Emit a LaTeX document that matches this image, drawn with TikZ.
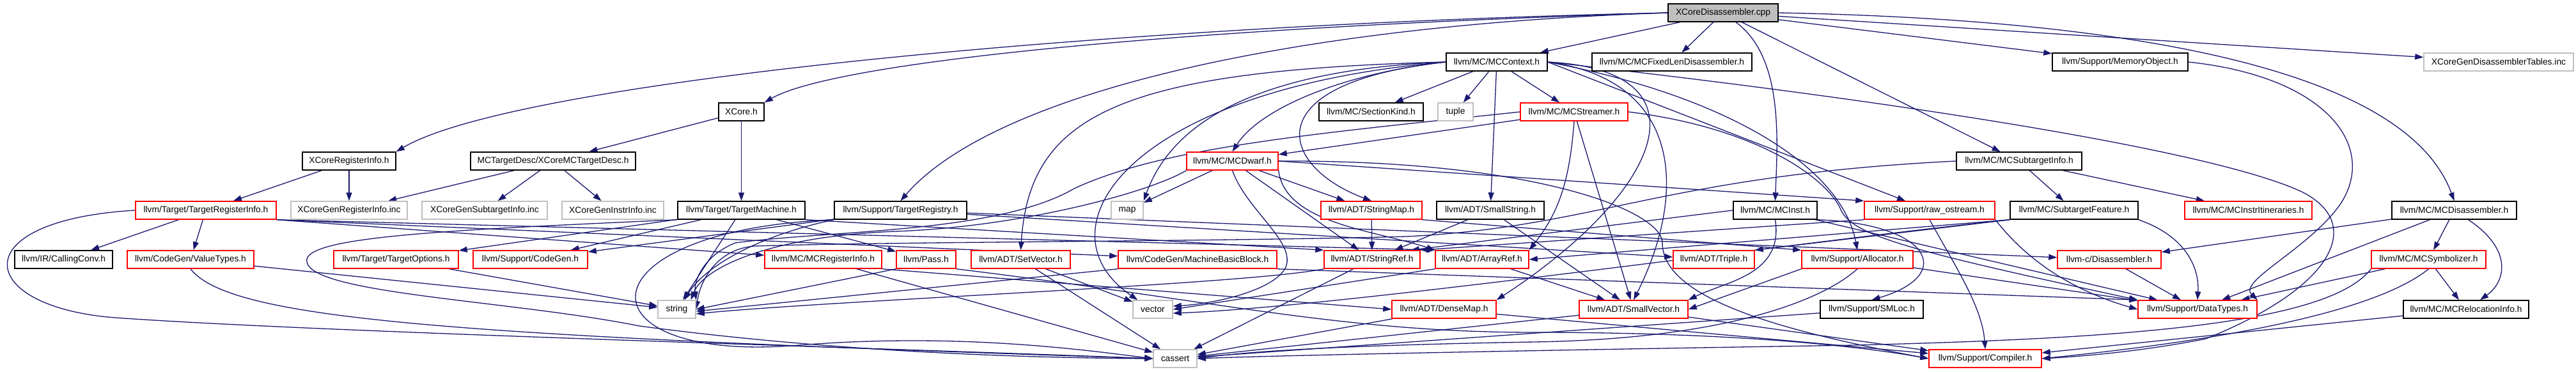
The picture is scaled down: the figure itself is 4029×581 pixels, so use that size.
\documentclass[tikz,border=0pt]{standalone}
\usepackage{fontspec}
\setmainfont{Liberation Sans}
\usetikzlibrary{arrows.meta}
\definecolor{edgec}{HTML}{191970}
\definecolor{grayb}{HTML}{BFBFBF}
\definecolor{redb}{HTML}{FF0000}
\pgfdeclarelayer{bg}
\pgfsetlayers{bg,main}
\newcommand{\gnode}[6]{\node[#5,minimum width={#3-#2}] (#1) at ({(#2+#3)/2},#4) {#6};}
\begin{document}
\begin{tikzpicture}[x=1pt,y=-1pt,
  box/.style={line width=1.5pt, minimum height=28pt, inner sep=0pt, anchor=center, fill=white, text=black, font=\fontsize{13.8pt}{16pt}\selectfont},
  kbox/.style={box, draw=black},
  rbox/.style={box, draw=redb},
  gbox/.style={box, draw=grayb},
  rootbox/.style={box, draw=black, fill=grayb},
  edg/.style={draw=edgec, line width=1.3pt, -{Triangle[length=13pt,width=9pt]}}]
\useasboundingbox (0,0) rectangle (4029,581);
\begin{pgfonlayer}{bg}
\fill[white] (0,0) rectangle (4029,581);
\end{pgfonlayer}
% row 0
\gnode{root}{2609}{2781}{20}{rootbox}{XCoreDisassembler.cpp}
% row 1
\gnode{mcctx}{2262}{2420}{97}{kbox}{llvm/MC/MCContext.h}
\gnode{fixlen}{2490}{2740}{97}{kbox}{llvm/MC/MCFixedLenDisassembler.h}
\gnode{memobj}{3210}{3422}{97}{kbox}{llvm/Support/MemoryObject.h}
\gnode{distab}{3791}{4025}{97}{gbox}{XCoreGenDisassemblerTables.inc}
% row 2
\gnode{xcore}{1124}{1195}{175}{kbox}{XCore.h}
\gnode{seckind}{2063}{2226}{175}{kbox}{llvm/MC/SectionKind.h}
\gnode{tuple}{2249}{2304}{175}{gbox}{tuple}
\gnode{streamer}{2378}{2546}{175}{rbox}{llvm/MC/MCStreamer.h}
% row 3
\gnode{xreginfo}{473}{619}{252}{kbox}{XCoreRegisterInfo.h}
\gnode{xmctd}{736}{994}{252}{kbox}{MCTargetDesc/XCoreMCTargetDesc.h}
\gnode{dwarf}{1856}{1999}{252}{rbox}{llvm/MC/MCDwarf.h}
\gnode{subinfo}{3060}{3256}{252}{kbox}{llvm/MC/MCSubtargetInfo.h}
% row 4
\gnode{tri}{212}{432}{329}{rbox}{llvm/Target/TargetRegisterInfo.h}
\gnode{genreg}{455}{637}{329}{gbox}{XCoreGenRegisterInfo.inc}
\gnode{gensub}{660}{856}{329}{gbox}{XCoreGenSubtargetInfo.inc}
\gnode{geninstr}{879}{1038}{329}{gbox}{XCoreGenInstrInfo.inc}
\gnode{tmach}{1060}{1259}{329}{kbox}{llvm/Target/TargetMachine.h}
\gnode{treg}{1305}{1512}{329}{kbox}{llvm/Support/TargetRegistry.h}
\gnode{map}{1738}{1788}{329}{gbox}{map}
\gnode{strmap}{2066}{2224}{329}{rbox}{llvm/ADT/StringMap.h}
\gnode{smallstr}{2247}{2415}{329}{kbox}{llvm/ADT/SmallString.h}
\gnode{mcinst}{2711}{2842}{329}{kbox}{llvm/MC/MCInst.h}
\gnode{rawos}{2916}{3120}{329}{rbox}{llvm/Support/raw\_ostream.h}
\gnode{subfeat}{3144}{3344}{329}{kbox}{llvm/MC/SubtargetFeature.h}
\gnode{itin}{3417}{3616}{329}{rbox}{llvm/MC/MCInstrItineraries.h}
\gnode{mcdis}{3741}{3936}{329}{kbox}{llvm/MC/MCDisassembler.h}
% row 5
\gnode{cconv}{23}{176}{406}{kbox}{llvm/IR/CallingConv.h}
\gnode{vtypes}{199}{397}{406}{rbox}{llvm/CodeGen/ValueTypes.h}
\gnode{topts}{522}{717}{406}{rbox}{llvm/Target/TargetOptions.h}
\gnode{cgen}{740}{919}{406}{rbox}{llvm/Support/CodeGen.h}
\gnode{mcreg}{1196}{1379}{406}{rbox}{llvm/MC/MCRegisterInfo.h}
\gnode{pass}{1402}{1495}{406}{rbox}{llvm/Pass.h}
\gnode{setvec}{1519}{1674}{406}{rbox}{llvm/ADT/SetVector.h}
\gnode{mbb}{1749}{1997}{406}{rbox}{llvm/CodeGen/MachineBasicBlock.h}
\gnode{strref}{2071}{2221}{406}{rbox}{llvm/ADT/StringRef.h}
\gnode{arrref}{2245}{2391}{406}{rbox}{llvm/ADT/ArrayRef.h}
\gnode{triple}{2617}{2744}{406}{rbox}{llvm/ADT/Triple.h}
\gnode{alloc}{2818}{2992}{406}{rbox}{llvm/Support/Allocator.h}
\gnode{cdis}{3218}{3380}{406}{rbox}{llvm-c/Disassembler.h}
\gnode{symb}{3709}{3888}{406}{rbox}{llvm/MC/MCSymbolizer.h}
% row 6
\gnode{string}{1029}{1088}{484}{gbox}{string}
\gnode{vector}{1772}{1834}{484}{gbox}{vector}
\gnode{dmap}{2177}{2340}{484}{rbox}{llvm/ADT/DenseMap.h}
\gnode{svec}{2470}{2640}{484}{rbox}{llvm/ADT/SmallVector.h}
\gnode{smloc}{2847}{3008}{484}{kbox}{llvm/Support/SMLoc.h}
\gnode{dtypes}{3344}{3530}{484}{rbox}{llvm/Support/DataTypes.h}
\gnode{reloc}{3759}{3955}{484}{kbox}{llvm/MC/MCRelocationInfo.h}
% row 7
\gnode{cassert}{1804}{1872}{561}{gbox}{cassert}
\gnode{compiler}{3017}{3193}{561}{rbox}{llvm/Support/Compiler.h}

\begin{pgfonlayer}{bg}
% root
\draw[edg] (root.west) .. controls (1700,40) and (800,130) .. (xreginfo.north east);
\draw[edg] (root.west) .. controls (1800,45) and (1300,100) .. (xcore.north east);
\draw[edg] (root.west) .. controls (2000,40) and (1550,150) .. (treg.north);
\draw[edg] (root) -- (mcctx);
\draw[edg] (root) -- (fixlen);
\draw[edg] ([xshift=20pt]root.south) .. controls (2790,90) and (2780,220) .. (mcinst.north);
\draw[edg] (root) -- (subinfo);
\draw[edg] (root) -- (memobj);
\draw[edg] (root) -- (distab);
\draw[edg] (root.east) .. controls (3300,30) and (3760,100) .. (mcdis.north);
% XCore.h etc.
\draw[edg] (xcore) -- (xmctd);
\draw[edg] (xcore) -- (tmach);
\draw[edg] (xreginfo) -- (tri);
\draw[edg] (xreginfo) -- (genreg);
\draw[edg] (xmctd) -- (genreg);
\draw[edg] (xmctd) -- (gensub);
\draw[edg] (xmctd) -- (geninstr);
% TargetRegisterInfo
\draw[edg] (tri) -- (cconv);
\draw[edg] (tri) -- (vtypes);
\draw[edg] (tri.west) .. controls (-60,345) and (-40,480) .. (180,497) .. controls (500,520) and (1400,545) .. (cassert.west);
\draw[edg] (tri.south east) -- (mcreg);
\draw[edg] (tri.south east) -- (mbb);
\draw[edg] (tri.south east) -- (arrref.north west);
% ValueTypes
\draw[edg] (vtypes) -- (string);
\draw[edg] (vtypes.south) .. controls (360,500) and (700,525) .. (cassert.west);
% TargetMachine
\draw[edg] (tmach) -- (topts);
\draw[edg] (tmach) -- (cgen);
\draw[edg] (tmach) -- (pass);
\draw[edg] (tmach.south east) -- (strref.north west);
\draw[edg] (tmach) -- (string);
\draw[edg] (tmach.south west) .. controls (700,360) and (470,370) .. (480,410) .. controls (490,460) and (800,470) .. (1000,510) .. controls (1300,550) and (1600,560) .. (cassert.west);
% TargetRegistry
\draw[edg] (treg) -- (cgen);
\draw[edg] (treg.south west) .. controls (1180,370) and (1100,420) .. ([xshift=12pt]string.north);
\draw[edg] (treg) -- (triple);
\draw[edg] (treg) -- (cdis);
\draw[edg] (treg.south west) .. controls (900,360) and (900,570) .. (1250,540) .. controls (1500,520) and (1700,548) .. (cassert.west);
% MCContext
\draw[edg] (mcctx) -- (seckind);
\draw[edg] (mcctx) -- (tuple);
\draw[edg] (mcctx) -- (smallstr);
\draw[edg] (mcctx) -- (streamer);
\draw[edg] (mcctx.west) .. controls (2100,115) and (1970,170) .. (dwarf.north);
\draw[edg] (mcctx.west) .. controls (1950,110) and (1830,200) .. (map.north east);
\draw[edg] (mcctx.west) .. controls (1960,130) and (2000,260) .. (strmap.north);
\draw[edg] (mcctx.west) .. controls (1750,110) and (1610,180) .. (setvec.north);
\draw[edg] (mcctx.west) .. controls (1760,140) and (1620,360) .. ([xshift=8pt]vector.north west);
\draw[edg] (mcctx.east) .. controls (2680,110) and (2600,300) .. (dmap.north east);
\draw[edg] (mcctx.east) .. controls (2630,125) and (2640,300) .. (svec.north);
\draw[edg] (mcctx.east) .. controls (2700,150) and (2880,260) .. (alloc.north);
\draw[edg] (mcctx.east) -- (rawos);
\draw[edg] (mcctx.east) .. controls (2900,150) and (3450,230) .. (3600,300) .. controls (3700,350) and (3650,450) .. (3450,530) .. controls (3350,550) and (3250,558) .. (compiler.east);
% MemoryObject
\draw[edg] (memobj.east) .. controls (3640,120) and (3720,230) .. (3660,320) .. controls (3610,390) and (3500,440) .. (dtypes.north east);
% MCInst
\draw[edg] (mcinst.south) .. controls (2790,430) and (2700,440) .. (svec.north east);
\draw[edg] (mcinst.west) -- ([xshift=-15pt]strref.north east);
\draw[edg] (mcinst) -- (dtypes);
\draw[edg] (mcinst.south east) .. controls (3020,350) and (3060,430) .. (smloc.north);
% MCSubtargetInfo
\draw[edg] (subinfo) -- (itin);
\draw[edg] (subinfo) -- (subfeat);
\draw[edg] (subinfo.west) .. controls (2600,275) and (2500,355) .. (2200,370) .. controls (1900,378) and (1400,378) .. (1180,385) .. controls (1120,390) and (1095,440) .. (string.east);
% SmallString, StringMap
\draw[edg] (smallstr) -- (svec);
\draw[edg] (smallstr) -- (strref);
\draw[edg] (strmap) -- (strref);
\draw[edg] (strmap.south east) -- (alloc.north west);
% StringRef, ArrayRef
\draw[edg] (strref.south west) .. controls (1950,445) and (1300,470) .. ([yshift=-7pt]string.east);
\draw[edg] (strref) -- (cassert);
\draw[edg] (arrref.south west) -- (vector.east);
\draw[edg] (arrref) -- (svec);
% MCStreamer
\draw[edg] (streamer) -- (dwarf);
\draw[edg] (streamer.west) .. controls (2050,210) and (1820,230) .. (1680,295) .. controls (1560,365) and (1300,360) .. (1150,380) .. controls (1100,400) and (1085,440) .. (string.north east);
\draw[edg] (streamer.south) .. controls (2455,280) and (2440,330) .. (arrref.north east);
\draw[edg] (streamer) -- (svec);
\draw[edg] (streamer.east) .. controls (2750,200) and (2860,280) .. (2880,330) .. controls (2900,370) and (3000,395) .. (dtypes.north west);
% MCDwarf
\draw[edg] (dwarf) -- (map);
\draw[edg] (dwarf.south west) .. controls (1800,300) and (1600,355) .. (1400,362) .. controls (1200,370) and (1100,420) .. ([xshift=22pt]string.north);
\draw[edg] (dwarf.south) .. controls (1950,330) and (2030,380) .. (2010,420) .. controls (1990,455) and (1900,475) .. ([yshift=5pt]vector.east);
\draw[edg] (dwarf) -- (strmap);
\draw[edg] (dwarf) -- (strref);
\draw[edg] (dwarf.south east) .. controls (2010,350) and (2150,360) .. (arrref.north west);
\draw[edg] (dwarf.east) -- (rawos.north west);
\draw[edg] (dwarf.east) .. controls (2400,250) and (2600,330) .. (2600,380) .. controls (2600,470) and (2800,520) .. (compiler.west);
% SubtargetFeature
\draw[edg] (subfeat.south west) -- (arrref.east);
\draw[edg] (subfeat.south west) -- (triple.north east);
\draw[edg] (subfeat.south east) .. controls (3420,370) and (3440,420) .. (dtypes.north);
\draw[edg] (subfeat.south west) .. controls (2800,380) and (2100,480) .. ([yshift=-6pt]vector.east);
% raw_ostream
\draw[edg] (rawos.south west) -- (strref.north east);
\draw[edg] (rawos.south) .. controls (3060,420) and (3100,480) .. (compiler.north);
\draw[edg] (rawos.south east) .. controls (3180,420) and (3260,460) .. (dtypes.west);
% Allocator
\draw[edg] (alloc.south west) -- (svec.east);
\draw[edg] (alloc.south) .. controls (2850,470) and (2700,530) .. (2400,535) .. controls (2100,540) and (1950,550) .. (cassert.east);
\draw[edg] (alloc) -- (dtypes);
% DenseMap, SmallVector, SMLoc
\draw[edg] (dmap) -- (cassert);
\draw[edg] (dmap) -- (compiler);
\draw[edg] (svec) -- (cassert);
\draw[edg] (svec) -- (compiler);
\draw[edg] (smloc) -- (cassert);
% Disassemblers
\draw[edg] (cdis) -- (dtypes);
\draw[edg] (mcdis) -- (cdis);
\draw[edg] (mcdis) -- (dtypes);
\draw[edg] (mcdis) -- (symb);
\draw[edg] ([xshift=22pt]mcdis.south) .. controls (3930,390) and (3920,440) .. ([xshift=22pt]reloc.north);
\draw[edg] (symb) -- (reloc);
\draw[edg] (symb) -- (dtypes);
\draw[edg] (symb.south) .. controls (3700,500) and (3400,540) .. (compiler.east);
\draw[edg] (symb.south west) .. controls (3640,510) and (3300,530) .. (2900,540) .. controls (2400,548) and (2000,556) .. (cassert.east);
\draw[edg] (reloc) -- (compiler);
% Pass, SetVector, MachineBasicBlock, MCRegisterInfo, TargetOptions
\draw[edg] (pass.south west) -- (string.east);
\draw[edg] (pass.south east) .. controls (1900,470) and (2100,520) .. (2400,520) .. controls (2700,520) and (2900,540) .. (compiler.west);
\draw[edg] (setvec) -- (cassert);
\draw[edg] (setvec) -- (vector);
\draw[edg] (mbb.south west) -- ([yshift=-3pt]string.east);
\draw[edg] (mbb.south east) -- (dtypes.north west);
\draw[edg] (mcreg.south east) -- (dmap.west);
\draw[edg] (mcreg) -- (cassert);
\draw[edg] (topts) -- (string);
\end{pgfonlayer}
\end{tikzpicture}
\end{document}
